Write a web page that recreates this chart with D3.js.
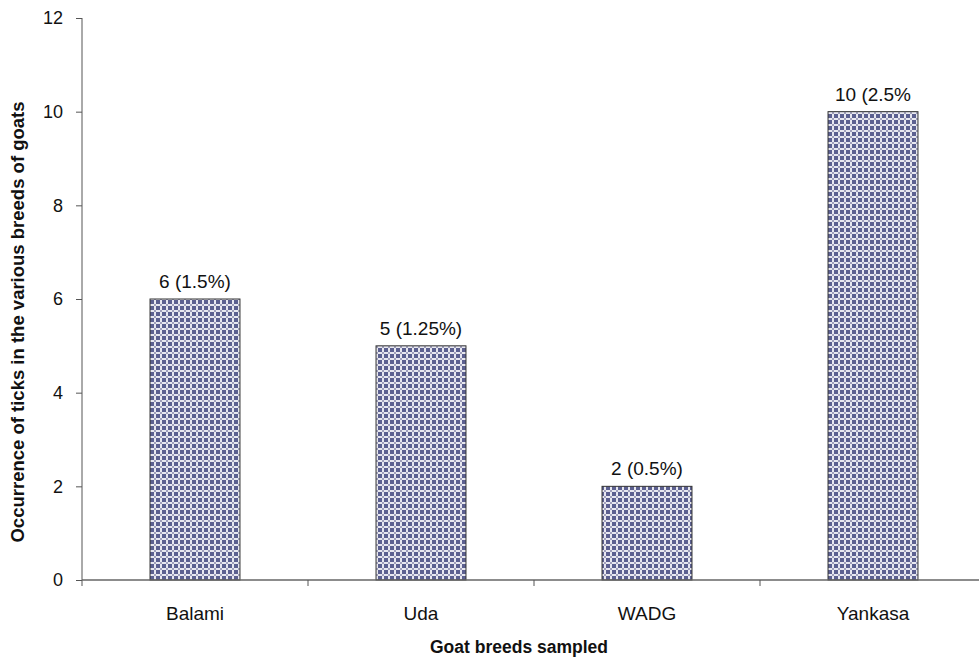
<!DOCTYPE html>
<html>
<head>
<meta charset="utf-8">
<script src="https://cdn.jsdelivr.net/npm/d3@7"></script>
<style>
  html, body { margin: 0; padding: 0; background: #fff; }
  svg { display: block; font-family: "Liberation Sans", Arial, sans-serif; }
</style>
</head>
<body>
<svg id="chart" width="979" height="658"></svg>
<script>
// Tick occurrence per goat breed
const breeds = ["Balami", "Uda", "WADG", "Yankasa"];
const counts = [6, 5, 2, 10];
const valueLabels = ["6 (1.5%)", "5 (1.25%)", "2 (0.5%)", "10 (2.5%"];
const yTicks = [0, 2, 4, 6, 8, 10, 12];

const svg = d3.select("#chart");
const plotLeft = 82, plotRight = 986, plotTop = 18, plotBottom = 580;

// Checked fill for the bars
const defs = svg.append("defs");
const pat = defs.append("pattern")
  .attr("id", "check")
  .attr("patternUnits", "userSpaceOnUse")
  .attr("width", 6).attr("height", 6);
pat.append("rect").attr("width", 6).attr("height", 6).attr("fill", "#e8e8f0");
pat.append("rect").attr("x", 0).attr("y", 0).attr("width", 4).attr("height", 4).attr("fill", "#5c6090");
pat.append("rect").attr("x", 4).attr("y", 4).attr("width", 2).attr("height", 2).attr("fill", "#a0a0bc");

const x = d3.scaleBand().domain(breeds).range([plotLeft, plotRight])
  .paddingInner(0.602).paddingOuter(0.301);
const y = d3.scaleLinear().domain([0, 12]).range([plotBottom, plotTop]);

// Bars
svg.append("g").selectAll("rect")
  .data(breeds)
  .join("rect")
  .attr("x", d => x(d))
  .attr("y", (d, i) => y(counts[i]))
  .attr("width", x.bandwidth())
  .attr("height", (d, i) => y(0) - y(counts[i]))
  .attr("fill", "url(#check)")
  .attr("stroke", "#333")
  .attr("stroke-width", 1);

// Value labels above bars
svg.append("g").selectAll("text")
  .data(breeds)
  .join("text")
  .attr("x", d => x(d) + x.bandwidth() / 2)
  .attr("y", (d, i) => y(counts[i]) - 11)
  .attr("text-anchor", "middle")
  .attr("font-size", 19)
  .attr("fill", "#111")
  .text((d, i) => valueLabels[i]);

// Y axis
const yAxis = svg.append("g")
  .attr("transform", `translate(${plotLeft},0)`)
  .call(d3.axisLeft(y).tickValues(yTicks).tickSize(6).tickPadding(13).tickFormat(d3.format("d")));
yAxis.select(".domain").attr("stroke", "#555").attr("d", `M0,${plotTop}V${plotBottom + 6}`);
yAxis.selectAll(".tick line").attr("stroke", "#555");
yAxis.selectAll(".tick text").attr("font-size", 18).attr("fill", "#111")
  .attr("font-family", "Liberation Sans, Arial, sans-serif");

// X axis with tick marks at category boundaries
const xAxisG = svg.append("g").attr("transform", `translate(0,${plotBottom})`);
xAxisG.append("line").attr("x1", plotLeft).attr("x2", 979).attr("y1", 0).attr("y2", 0)
  .attr("stroke", "#666").attr("stroke-width", 1.5);
const step = x.step();
const bounds = breeds.slice(1).map(d => x(d) - x.paddingInner() * step / 2);
xAxisG.selectAll("line.tk").data(bounds).join("line").attr("class", "tk")
  .attr("x1", d => d).attr("x2", d => d).attr("y1", 0).attr("y2", 6)
  .attr("stroke", "#555");
xAxisG.selectAll("text").data(breeds).join("text")
  .attr("x", d => x(d) + x.bandwidth() / 2)
  .attr("y", 40)
  .attr("text-anchor", "middle")
  .attr("font-size", 19)
  .attr("fill", "#111")
  .text(d => d);

// Axis titles
svg.append("text")
  .attr("x", 519).attr("y", 653)
  .attr("text-anchor", "middle")
  .attr("font-size", 17.5).attr("font-weight", "bold").attr("fill", "#111")
  .text("Goat breeds sampled");
svg.append("text")
  .attr("transform", "translate(24,322) rotate(-90)")
  .attr("text-anchor", "middle")
  .attr("font-size", 18.5).attr("font-weight", "bold").attr("fill", "#111")
  .text("Occurrence of ticks in the various breeds of goats");
</script>
</body>
</html>
